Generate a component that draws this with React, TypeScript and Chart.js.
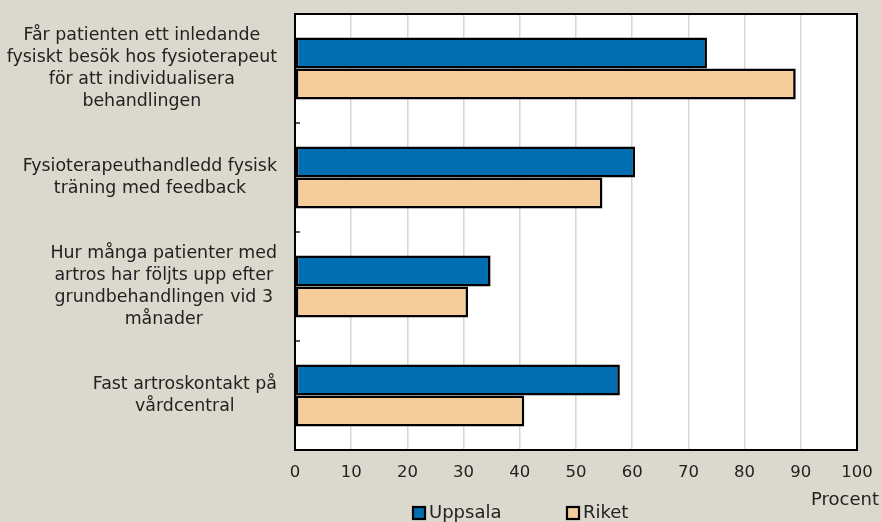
import React, { useEffect, useRef } from "react";
import { Chart, registerables } from "chart.js";

Chart.register(...registerables);

const categories: string[][] = [
  ["Får patienten ett inledande", "fysiskt besök hos fysioterapeut", "för att individualisera", "behandlingen"],
  ["Fysioterapeuthandledd fysisk", "träning med feedback"],
  ["Hur många patienter med", "artros har följts upp efter", "grundbehandlingen vid 3", "månader"],
  ["Fast artroskontakt på", "vårdcentral"],
];
const uppsala = [73.3, 60.5, 34.8, 57.8];
const riket = [89.1, 54.7, 30.8, 40.8];
const seriesNames = ["Uppsala", "Riket"];
const xTicks = [0, 10, 20, 30, 40, 50, 60, 70, 80, 90, 100];
const axisTitle = "Procent";

const BG = "#dbd9cd";
const BLUE = "#006eb0";
const ORANGE = "#f5cd9a";
const TEXT = "#222222";
const FONT = "'DejaVu Sans', sans-serif";

export default function App() {
  const ref = useRef<HTMLCanvasElement | null>(null);

  useEffect(() => {
    const canvas = ref.current;
    if (!canvas) return;

    const overlay = {
      id: "overlay",
      beforeDraw(chart: any) {
        const { ctx, chartArea } = chart;
        ctx.save();
        ctx.fillStyle = "#ffffff";
        ctx.fillRect(chartArea.left, chartArea.top, chartArea.right - chartArea.left, chartArea.bottom - chartArea.top);
        ctx.restore();
      },
      afterDraw(chart: any) {
        const { ctx, chartArea } = chart;
        const yScale = chart.scales.y;
        ctx.save();
        // plot frame
        ctx.strokeStyle = "#000";
        ctx.lineWidth = 2;
        ctx.strokeRect(chartArea.left, chartArea.top, chartArea.right - chartArea.left, chartArea.bottom - chartArea.top);
        // inner ticks at category boundaries
        ctx.lineWidth = 1.3;
        for (let i = 0; i <= categories.length; i++) {
          const y = yScale.getPixelForValue(i - 0.5);
          ctx.beginPath();
          ctx.moveTo(chartArea.left, y);
          ctx.lineTo(chartArea.left + 5, y);
          ctx.stroke();
        }
        // category labels: block right-aligned, lines centered
        ctx.fillStyle = TEXT;
        ctx.font = `17.4px ${FONT}`;
        ctx.textBaseline = "middle";
        ctx.textAlign = "center";
        const lh = 22;
        const rightEdge = 277;
        categories.forEach((lines, i) => {
          const yc = yScale.getPixelForValue(i);
          const widest = Math.max(...lines.map((l) => ctx.measureText(l).width));
          const cx = rightEdge - widest / 2;
          const y0 = yc - ((lines.length - 1) * lh) / 2;
          lines.forEach((l, j) => ctx.fillText(l, cx, y0 + j * lh));
        });
        // axis title
        ctx.font = `18px ${FONT}`;
        ctx.fillText(axisTitle, 845, 500);
        // legend
        const items = [
          { name: seriesNames[0], color: BLUE, x: 413 },
          { name: seriesNames[1], color: ORANGE, x: 567 },
        ];
        ctx.textAlign = "left";
        items.forEach((it) => {
          ctx.fillStyle = it.color;
          ctx.fillRect(it.x, 507, 12, 12);
          ctx.strokeStyle = "#000";
          ctx.lineWidth = 2.2;
          ctx.strokeRect(it.x, 507, 12, 12);
          ctx.fillStyle = TEXT;
          ctx.fillText(it.name, it.x + 16, 513);
        });
        ctx.restore();
      },
    };

    const chart = new Chart(canvas, {
      type: "bar",
      data: {
        labels: categories.map((c) => c.join(" ")),
        datasets: [
          {
            label: seriesNames[0],
            data: uppsala,
            backgroundColor: BLUE,
            borderColor: "#000",
            borderWidth: 2.6,
            borderSkipped: false,
            categoryPercentage: 0.57,
            barPercentage: 1,
          },
          {
            label: seriesNames[1],
            data: riket,
            backgroundColor: ORANGE,
            borderColor: "#000",
            borderWidth: 2.6,
            borderSkipped: false,
            categoryPercentage: 0.57,
            barPercentage: 1,
          },
        ],
      },
      options: {
        indexAxis: "y",
        responsive: false,
        maintainAspectRatio: false,
        animation: false,
        layout: { padding: { left: 0, top: 14, right: 24, bottom: 0 } },
        plugins: { legend: { display: false }, tooltip: { enabled: false } },
        scales: {
          x: {
            min: 0,
            max: 100,
            afterBuildTicks: (axis: any) => {
              axis.ticks = xTicks.map((v) => ({ value: v }));
            },
            grid: { color: "#d9d7cc", lineWidth: 1.5, drawTicks: false },
            border: { display: false },
            ticks: {
              color: TEXT,
              font: { family: FONT, size: 16.5 },
              padding: 13,
            },
            afterFit: (axis: any) => {
              axis.height = 72;
              axis.paddingRight = 0;
              axis.paddingLeft = 0;
            },
          },
          y: {
            grid: { display: false, drawTicks: false },
            border: { display: false },
            ticks: { display: false },
            afterFit: (axis: any) => {
              axis.width = 295;
            },
          },
        },
      },
      plugins: [overlay],
    });
    return () => chart.destroy();
  }, []);

  return (
    <div style={{ position: "fixed", left: 0, top: 0, width: 881, height: 522, background: BG }}>
      <canvas ref={ref} width={881} height={522} style={{ display: "block" }} />
    </div>
  );
}
